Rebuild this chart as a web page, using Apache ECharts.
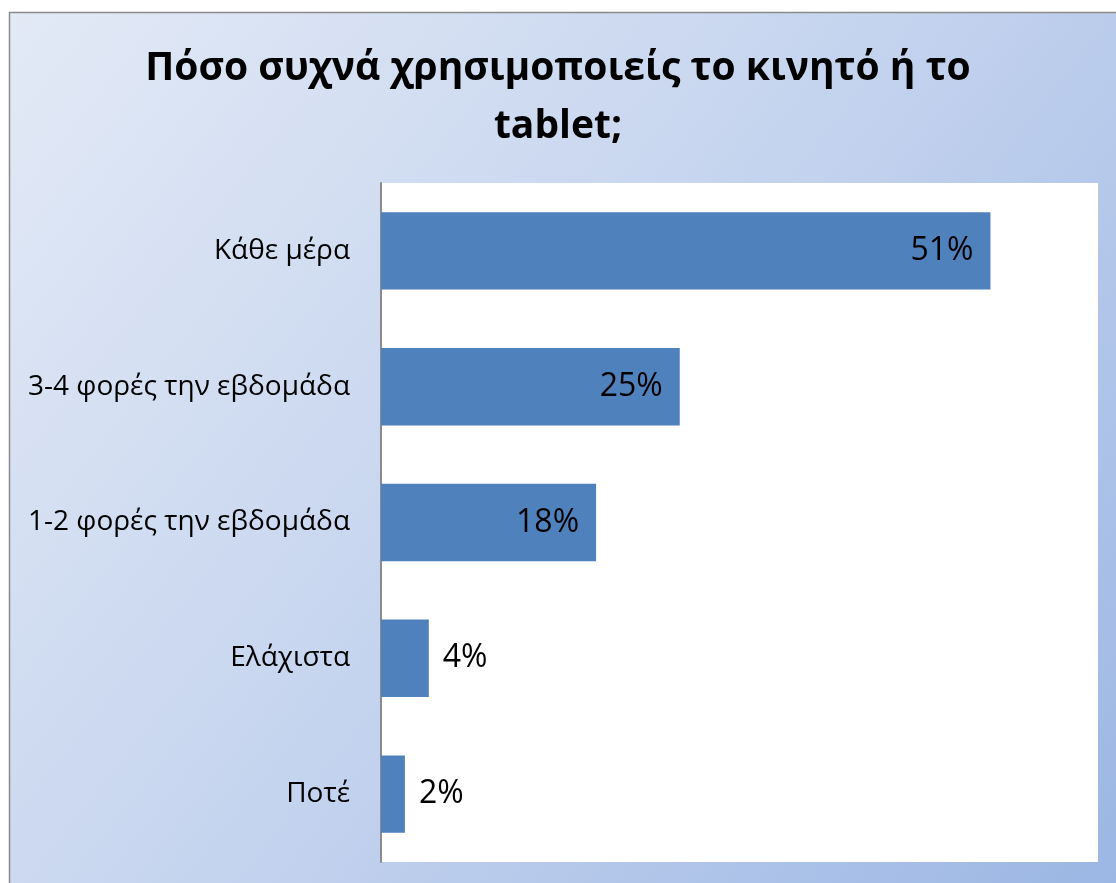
<!DOCTYPE html>
<html>
<head>
<meta charset="utf-8">
<script src="https://cdn.jsdelivr.net/npm/echarts@6/dist/echarts.min.js"></script>
<style>
  html, body { margin: 0; padding: 0; background: #ffffff; overflow: hidden; }
  #chart { width: 1116px; height: 883px; }
</style>
</head>
<body>
<div id="chart"></div>
<script>
// Survey answers: how often the phone or tablet is used
const categories = ['Κάθε μέρα', '3-4 φορές την εβδομάδα', '1-2 φορές την εβδομάδα', 'Ελάχιστα', 'Ποτέ'];
const shares = [51, 25, 18, 4, 2];
const titleLines = ['Πόσο συχνά χρησιμοποιείς το κινητό ή το', 'tablet;'];

const FONT = '"Open Sans", "Noto Sans", sans-serif';

const chart = echarts.init(document.getElementById('chart'), null, { renderer: 'canvas' });

// Wide bars carry their label inside the bar end, short ones just beyond it
const barData = shares.map(v => ({
  value: v,
  label: v >= 10
    ? { position: 'insideRight', distance: 17 }
    : { position: 'right', distance: 14 }
}));

chart.setOption({
  animation: false,
  graphic: [{
    type: 'rect',
    z: -10,
    silent: true,
    shape: { x: 9.5, y: 12.5, width: 1120, height: 880 },
    style: {
      fill: {
        type: 'linear', x: 0, y: 0, x2: 1, y2: 1,
        colorStops: [
          { offset: 0, color: '#e3eaf6' },
          { offset: 0.5, color: '#c4d3ee' },
          { offset: 1, color: '#9bb6e4' }
        ]
      },
      stroke: '#8a8a8a',
      lineWidth: 1.5
    }
  }],
  title: {
    text: titleLines.join('\n'),
    left: 'center',
    top: 35,
    textStyle: {
      fontFamily: FONT,
      fontWeight: 'bold',
      fontSize: 39,
      lineHeight: 58,
      color: '#000000',
      align: 'center'
    }
  },
  grid: {
    left: 381,
    top: 183,
    right: 18,
    bottom: 21,
    show: true,
    backgroundColor: '#ffffff',
    borderWidth: 0,
    containLabel: false
  },
  xAxis: {
    type: 'value',
    min: 0,
    max: 60,
    show: false
  },
  yAxis: {
    type: 'category',
    data: categories,
    inverse: true,
    axisLine: { show: true, lineStyle: { color: '#8a8a8a', width: 2 } },
    axisTick: { show: false },
    axisLabel: {
      margin: 31,
      fontFamily: FONT,
      fontSize: 28,
      color: '#000000'
    }
  },
  series: [{
    type: 'bar',
    data: barData,
    barCategoryGap: '43%',
    itemStyle: { color: '#4f81bd' },
    label: {
      show: true,
      formatter: p => p.value + '%',
      fontFamily: FONT,
      fontSize: 32,
      color: '#000000'
    }
  }]
});
</script>
</body>
</html>
